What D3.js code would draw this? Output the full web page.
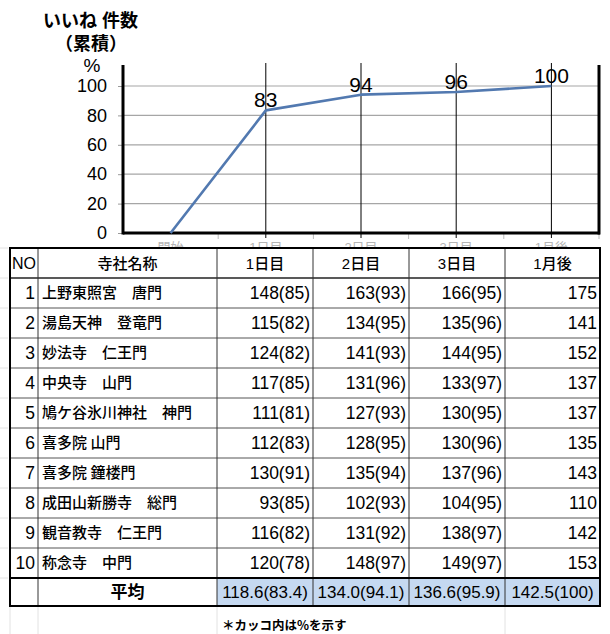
<!DOCTYPE html>
<html><head><meta charset="utf-8">
<script src="https://cdn.jsdelivr.net/npm/d3@7"></script>
<style>
html,body{margin:0;padding:0;background:#fff;}
svg{display:block;}
</style></head><body>
<svg id="c" width="610" height="634"></svg>
<script>
// ---- chart data ----
const categories = ["開始", "1日目", "2日目", "3日目", "1月後"];
const cumulativePct = [0, 83.4, 94.1, 95.9, 100];
const yTicks = [0, 20, 40, 60, 80, 100];

// ---- table data ----
const tableHeaders = ["NO", "寺社名称", "1日目", "2日目", "3日目", "1月後"];
const siteNo = [1, 2, 3, 4, 5, 6, 7, 8, 9, 10];
const sites = ["上野東照宮　唐門", "湯島天神　登竜門", "妙法寺　仁王門", "中央寺　山門", "鳩ケ谷氷川神社　神門",
  "喜多院 山門", "喜多院 鐘楼門", "成田山新勝寺　総門", "観音教寺　仁王門", "称念寺　中門"];
const day1 = [148, 115, 124, 117, 111, 112, 130, 93, 116, 120];
const day1Pct = [85, 82, 82, 85, 81, 83, 91, 85, 82, 78];
const day2 = [163, 134, 141, 131, 127, 128, 135, 102, 131, 148];
const day2Pct = [93, 95, 93, 96, 93, 95, 94, 93, 92, 97];
const day3 = [166, 135, 144, 133, 130, 130, 137, 104, 138, 149];
const day3Pct = [95, 96, 95, 97, 95, 96, 96, 95, 97, 97];
const month1 = [175, 141, 152, 137, 137, 135, 143, 110, 142, 153];
const avgLabel = "平均";
const avgCounts = ["118.6", "134.0", "136.6", "142.5"];
const avgPct = ["83.4", "94.1", "95.9", "100"];
const footnote = "＊カッコ内は%を示す";

const LAT = "'Liberation Sans', Arial, 'Noto Sans CJK JP', sans-serif";
const CJK = "'Noto Sans CJK JP', 'Liberation Sans', sans-serif";

const svg = d3.select("#c");

// ---------------- chart ----------------
const plotL = 123, plotR = 599, plotTop = 65;
const x = d3.scaleBand().domain(categories).range([plotL, plotR]);
const y = d3.scaleLinear().domain([0, 100]).range([233, 86]);
const cx = c => x(c) + x.bandwidth() / 2;

const chart = svg.append("g");

// horizontal gridlines
chart.selectAll("line.grid").data(yTicks.filter(d => d > 0)).join("line")
  .attr("x1", plotL).attr("x2", plotR - 1)
  .attr("y1", d => y(d)).attr("y2", d => y(d))
  .attr("stroke", "#a6a6a6").attr("stroke-width", 1.2);

// category labels (mostly hidden behind the table)
svg.append("clipPath").attr("id", "catclip").append("rect")
  .attr("x", 0).attr("y", 236).attr("width", 610).attr("height", 11.5);
chart.append("g").attr("clip-path", "url(#catclip)")
  .selectAll("text").data(categories).join("text")
  .attr("x", d => cx(d)).attr("y", 252)
  .attr("text-anchor", "middle")
  .attr("font-family", LAT).attr("font-size", 13)
  .attr("fill", "#b5b5b5")
  .text(d => d);

// x-axis ticks at band boundaries
chart.selectAll("line.xt").data(categories).join("line")
  .attr("x1", d => x(d) + x.bandwidth()).attr("x2", d => x(d) + x.bandwidth())
  .attr("y1", 233).attr("y2", 239)
  .attr("stroke", "#bbb").attr("stroke-width", 1);

// vertical drop lines at points with values
chart.selectAll("line.drop").data(categories.filter((c, i) => cumulativePct[i] > 0)).join("line")
  .attr("x1", d => cx(d)).attr("x2", d => cx(d))
  .attr("y1", 63).attr("y2", 238)
  .attr("stroke", "#000").attr("stroke-width", 1);

// y axis
const yAxis = chart.append("g").attr("transform", `translate(${plotL},0)`)
  .call(d3.axisLeft(y).tickValues(yTicks).tickSize(5).tickPadding(11).tickSizeOuter(0));
yAxis.select(".domain").remove();
yAxis.selectAll(".tick line").attr("stroke", "#999");
yAxis.selectAll(".tick text")
  .attr("font-family", LAT).attr("font-size", 18).attr("fill", "#000");

// plot borders
chart.append("line").attr("x1", plotL).attr("x2", plotL).attr("y1", plotTop).attr("y2", 234.5)
  .attr("stroke", "#000").attr("stroke-width", 3);
chart.append("line").attr("x1", plotL).attr("x2", plotR + 1).attr("y1", 233).attr("y2", 233)
  .attr("stroke", "#000").attr("stroke-width", 3);
chart.append("line").attr("x1", plotR).attr("x2", plotR).attr("y1", plotTop).attr("y2", 234.5)
  .attr("stroke", "#000").attr("stroke-width", 3);

// series line
const line = d3.line().x(d => cx(d.c)).y(d => y(d.v));
const pts = categories.map((c, i) => ({ c, v: cumulativePct[i] }));
chart.append("path").datum(pts)
  .attr("d", line).attr("fill", "none")
  .attr("stroke", "#5279b0").attr("stroke-width", 2.6)
  .attr("stroke-linejoin", "round");

// data labels
chart.selectAll("text.lab").data(pts.filter(d => d.v > 0)).join("text")
  .attr("x", d => cx(d.c)).attr("y", d => y(d.v) - 3)
  .attr("text-anchor", "middle")
  .attr("font-family", LAT).attr("font-size", 21).attr("fill", "#000")
  .text(d => d3.format(".0f")(d.v));

// title
chart.append("text").attr("x", 43).attr("y", 27)
  .attr("font-family", LAT).attr("font-weight", "bold").attr("font-size", 18)
  .text("いいね 件数");
chart.append("text").attr("x", 91).attr("y", 50).attr("text-anchor", "middle")
  .attr("font-family", LAT).attr("font-weight", "bold").attr("font-size", 18)
  .text("（累積）");
chart.append("text").attr("x", 92).attr("y", 72).attr("text-anchor", "middle")
  .attr("font-family", LAT).attr("font-size", 19)
  .text("%");

// ---------------- table ----------------
const colX = [10, 38, 217, 313, 409, 505, 600];
const tTop = 248, rowH = 30, avgTop = 578, tBottom = 606;
const tbl = svg.append("g");

// faint spreadsheet gridlines outside table
const faint = "#e2e2e2";
[10, 38, 217, 505].forEach(xx => {
  tbl.append("line").attr("x1", xx).attr("x2", xx).attr("y1", tBottom).attr("y2", 634)
    .attr("stroke", faint).attr("stroke-width", 1);
});
d3.range(0, 12).forEach(i => {
  const yy = tTop + i * rowH;
  tbl.append("line").attr("x1", 0).attr("x2", 8).attr("y1", yy).attr("y2", yy)
    .attr("stroke", faint).attr("stroke-width", 1);
});

tbl.append("rect").attr("x", colX[0]).attr("y", tTop).attr("width", colX[6] - colX[0]).attr("height", tBottom - tTop)
  .attr("fill", "#fff");
tbl.append("rect").attr("x", colX[2]).attr("y", avgTop).attr("width", colX[6] - colX[2]).attr("height", tBottom - avgTop)
  .attr("fill", "#c5d9f1");

// row lines
d3.range(1, 11).forEach(i => {
  const yy = tTop + i * rowH;
  tbl.append("line").attr("x1", colX[0]).attr("x2", colX[6]).attr("y1", yy).attr("y2", yy)
    .attr("stroke", i === 1 ? "#222" : "#555").attr("stroke-width", i === 1 ? 1.5 : 1);
});
// column lines
colX.slice(1, 6).forEach(xx => {
  tbl.append("line").attr("x1", xx).attr("x2", xx).attr("y1", tTop).attr("y2", tBottom)
    .attr("stroke", "#333").attr("stroke-width", 1);
});
// avg top line
tbl.append("line").attr("x1", colX[0]).attr("x2", colX[6]).attr("y1", avgTop).attr("y2", avgTop)
  .attr("stroke", "#000").attr("stroke-width", 2);
// outer border
tbl.append("rect").attr("x", colX[0]).attr("y", tTop).attr("width", colX[6] - colX[0]).attr("height", tBottom - tTop)
  .attr("fill", "none").attr("stroke", "#000").attr("stroke-width", 2);

// header texts
tableHeaders.forEach((h, j) => {
  tbl.append("text")
    .attr("x", (colX[j] + colX[j + 1]) / 2).attr("y", tTop + 21)
    .attr("text-anchor", "middle")
    .attr("font-family", LAT).attr("font-size", j === 0 ? 16 : 15)
    .attr("font-weight", 500)
    .text(h);
});

// body rows
const cellText = (v, p) => p === undefined ? String(v) : `${v}(${p})`;
sites.forEach((name, i) => {
  const base = tTop + rowH * (i + 1) + 21;
  tbl.append("text").attr("x", colX[1] - 3).attr("y", base).attr("text-anchor", "end")
    .attr("font-family", LAT).attr("font-size", 17.5).text(siteNo[i]);
  tbl.append("text").attr("x", colX[1] + 4).attr("y", base - 1)
    .attr("font-family", CJK).attr("font-size", 15).attr("font-weight", 500).text(name);
  const vals = [cellText(day1[i], day1Pct[i]), cellText(day2[i], day2Pct[i]), cellText(day3[i], day3Pct[i]), cellText(month1[i])];
  vals.forEach((t, k) => {
    tbl.append("text").attr("x", colX[k + 3] - 3).attr("y", base).attr("text-anchor", "end")
      .attr("font-family", LAT).attr("font-size", 17.5).text(t);
  });
});

// average row
tbl.append("text").attr("x", (colX[1] + colX[2]) / 2).attr("y", avgTop + 20).attr("text-anchor", "middle")
  .attr("font-family", CJK).attr("font-size", 17).attr("font-weight", "bold").text(avgLabel);
avgCounts.forEach((c, k) => {
  tbl.append("text").attr("x", (colX[k + 2] + colX[k + 3]) / 2).attr("y", avgTop + 20)
    .attr("text-anchor", "middle")
    .attr("font-family", LAT).attr("font-size", 17).text(`${c}(${avgPct[k]})`);
});

// footnote
tbl.append("text").attr("x", 222).attr("y", 630)
  .attr("font-family", CJK).attr("font-size", 12.5).attr("font-weight", "bold").text(footnote);
</script>
</body></html>
